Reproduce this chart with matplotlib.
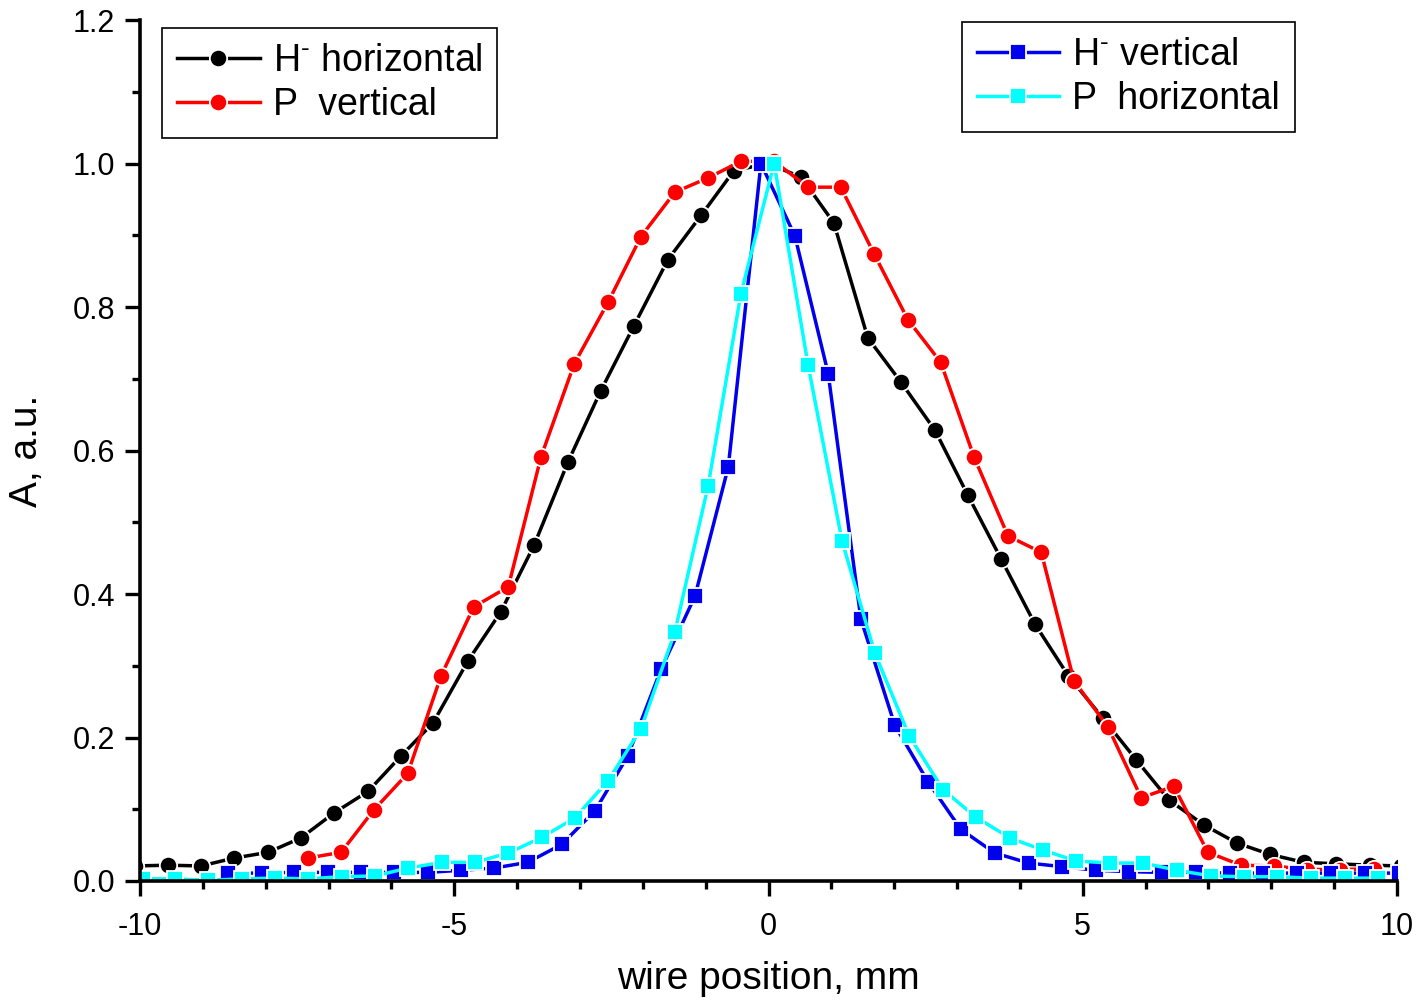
#Profiles of H- and P beams measured with a wire scanner
import matplotlib
matplotlib.use('Agg')
import matplotlib.pyplot as plt
from matplotlib.ticker import MultipleLocator

plt.rcParams['font.family'] = ['Liberation Sans', 'DejaVu Sans']
plt.rcParams['mathtext.fontset'] = 'custom'
plt.rcParams['mathtext.rm'] = 'Liberation Sans'
plt.rcParams['mathtext.it'] = 'Liberation Sans:italic'
plt.rcParams['axes.unicode_minus'] = False

#H- horizontal (black circles)
x_hh = [-10.08, -9.55, -9.03, -8.50, -7.96, -7.44, -6.91, -6.37, -5.85, -5.34,
        -4.78, -4.26, -3.73, -3.19, -2.67, -2.14, -1.60, -1.07, -0.55, -0.01,
        0.52, 1.04, 1.58, 2.11, 2.65, 3.17, 3.70, 4.24, 4.77, 5.32,
        5.85, 6.37, 6.93, 7.45, 7.98, 8.52, 9.03, 9.57, 10.06]
y_hh = [0.021, 0.022, 0.021, 0.032, 0.040, 0.060, 0.095, 0.125, 0.174, 0.220,
        0.307, 0.375, 0.468, 0.584, 0.683, 0.774, 0.866, 0.928, 0.990, 1.0,
        0.981, 0.917, 0.757, 0.695, 0.628, 0.538, 0.449, 0.358, 0.286, 0.227,
        0.169, 0.113, 0.078, 0.053, 0.037, 0.026, 0.024, 0.022, 0.021]

#P vertical (red circles)
x_pv = [-7.33, -6.80, -6.28, -5.74, -5.21, -4.69, -4.14, -3.62, -3.09, -2.55,
        -2.03, -1.49, -0.96, -0.44, 0.09, 0.63, 1.15, 1.68, 2.22, 2.74,
        3.27, 3.81, 4.34, 4.86, 5.40, 5.93, 6.45, 6.99, 7.52, 8.04,
        8.57, 9.10, 9.64]
y_pv = [0.032, 0.040, 0.099, 0.150, 0.286, 0.382, 0.410, 0.591, 0.721, 0.807,
        0.898, 0.960, 0.980, 1.003, 1.003, 0.967, 0.967, 0.874, 0.782, 0.723,
        0.591, 0.481, 0.458, 0.279, 0.215, 0.116, 0.132, 0.040, 0.022, 0.021,
        0.016, 0.016, 0.017]

#H- vertical (blue squares)
x_hv = [-8.60, -8.06, -7.55, -7.01, -6.48, -5.96, -5.42, -4.89, -4.37, -3.83,
        -3.29, -2.76, -2.24, -1.71, -1.17, -0.64, -0.12, 0.42, 0.95, 1.47,
        2.01, 2.54, 3.06, 3.60, 4.14, 4.67, 5.21, 5.74, 6.26, 6.80,
        7.34, 7.87, 8.41, 8.95, 9.49, 10.03]
y_hv = [0.011, 0.011, 0.012, 0.012, 0.012, 0.012, 0.012, 0.015, 0.018, 0.026,
        0.051, 0.098, 0.174, 0.295, 0.397, 0.577, 1.0, 0.899, 0.707, 0.365,
        0.217, 0.138, 0.072, 0.039, 0.025, 0.020, 0.015, 0.013, 0.012, 0.012,
        0.011, 0.011, 0.011, 0.011, 0.011, 0.011]

#P horizontal (cyan squares)
x_ph = [-9.95, -9.44, -8.92, -8.38, -7.85, -7.33, -6.79, -6.26, -5.74, -5.19,
        -4.67, -4.14, -3.60, -3.08, -2.55, -2.03, -1.49, -0.96, -0.44, 0.09,
        0.63, 1.17, 1.69, 2.24, 2.78, 3.30, 3.84, 4.37, 4.89, 5.43,
        5.96, 6.50, 7.04, 7.57, 8.09, 8.63, 9.17, 9.70]
y_ph = [0.003, 0.003, 0.001, 0.003, 0.004, 0.003, 0.006, 0.007, 0.018, 0.026,
        0.026, 0.039, 0.061, 0.088, 0.140, 0.212, 0.347, 0.551, 0.818, 1.0,
        0.719, 0.474, 0.318, 0.202, 0.127, 0.089, 0.060, 0.043, 0.028, 0.025,
        0.025, 0.015, 0.007, 0.006, 0.006, 0.004, 0.004, 0.004]

fig = plt.figure(figsize=(14.22, 10.02), dpi=100)
ax = fig.add_axes([140/1422, 121/1002, 1257/1422, 861/1002])

estilo = dict(lw=2.5, mec='white', mew=1.3)
l1, = ax.plot(x_hh, y_hh, color='black', marker='o', ms=12.5, label=r'H$^{\text{-}}$ horizontal', **estilo)
l2, = ax.plot(x_pv, y_pv, color='red', marker='o', ms=12.5, label='P  vertical', **estilo)
l3, = ax.plot(x_hv, y_hv, color='#0000ee', marker='s', ms=11, label=r'H$^{\text{-}}$ vertical', **estilo)
l4, = ax.plot(x_ph, y_ph, color='cyan', marker='s', ms=11, label='P  horizontal', **estilo)

ax.set_xlim(-10, 10)
ax.set_ylim(0, 1.2)
ax.xaxis.set_major_locator(MultipleLocator(5))
ax.xaxis.set_minor_locator(MultipleLocator(1))
ax.yaxis.set_minor_locator(MultipleLocator(0.1))
ax.set_yticks([0, 0.2, 0.4, 0.6, 0.8, 1.0, 1.2])
ax.set_yticklabels(['0.0', '0.2', '0.4', '0.6', '0.8', '1.0', '1.2'])

for lado in ['top', 'right']:
    ax.spines[lado].set_visible(False)
for lado in ['left', 'bottom']:
    ax.spines[lado].set_linewidth(2.6)
ax.tick_params(axis='x', which='major', pad=11)
ax.tick_params(axis='y', which='major', pad=7)
ax.tick_params(which='major', direction='out', length=11, width=2.4, labelsize=22)
ax.tick_params(which='minor', direction='out', length=5.5, width=2.4)

ax.set_xlabel('wire position, mm', fontsize=28, labelpad=14)
ax.set_ylabel('A, a.u.', fontsize=28, labelpad=20)

leg_args = dict(fontsize=27, frameon=True, fancybox=False, edgecolor='black', framealpha=1,
                borderaxespad=0, handlelength=2.2, handletextpad=0.35, labelspacing=0.22,
                borderpad=0.4, markerscale=1.0, bbox_transform=fig.transFigure)
leg1 = ax.legend(handles=[l1, l2], loc='upper left', bbox_to_anchor=(162/1422, 974/1002), **leg_args)
leg1.get_frame().set_linewidth(1.2)
ax.add_artist(leg1)
leg2 = ax.legend(handles=[l3, l4], loc='upper right', bbox_to_anchor=(1295/1422, 980/1002), **leg_args)
leg2.get_frame().set_linewidth(1.2)

plt.savefig('out.png', format='png')
